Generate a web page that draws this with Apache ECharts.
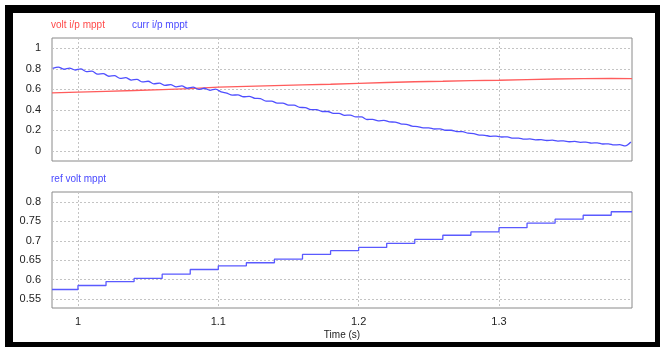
<!DOCTYPE html>
<html>
<head>
<meta charset="utf-8">
<script src="https://cdn.jsdelivr.net/npm/echarts@6/dist/echarts.min.js"></script>
<style>
  html, body { margin: 0; padding: 0; background: #ffffff; }
  #frame {
    position: absolute; left: 5px; top: 5px;
    width: 642px; height: 329px;
    border-style: solid; border-color: #000;
    border-width: 8px 5px 5px 8px;
    background: #ffffff;
  }
  #chart { position: absolute; left: 0; top: 0; width: 660px; height: 347px; }
</style>
</head>
<body>
<div id="frame"></div>
<div id="chart"></div>
<script>
// Time axis ticks and ranges (seconds)
const timeTicks = [1, 1.1, 1.2, 1.3];
const timeMin = 0.9815;
const timeMax = 1.3948;
const upperTicks = [0, 0.2, 0.4, 0.6, 0.8, 1];
const lowerTicks = [0.55, 0.6, 0.65, 0.7, 0.75, 0.8];

// volt i/p mppt
const voltTime = [0.9815, 1.0, 1.02, 1.04, 1.06, 1.08, 1.1, 1.12, 1.14, 1.16, 1.18,
  1.2, 1.22, 1.24, 1.26, 1.28, 1.3, 1.32, 1.34, 1.36, 1.38, 1.3948];
const voltValues = [0.564, 0.572, 0.58, 0.588, 0.597, 0.606, 0.621, 0.628, 0.635, 0.642, 0.649,
  0.658, 0.666, 0.673, 0.678, 0.684, 0.688, 0.694, 0.700, 0.704, 0.707, 0.703];

// curr i/p mppt, sampled every 4 ms from 0.982 s
const currStart = 0.982;
const currStep = 0.004;
const currValues = [
  0.804, 0.816, 0.795, 0.807, 0.788, 0.798, 0.772, 0.776, 0.747, 0.753,
  0.727, 0.732, 0.706, 0.713, 0.690, 0.696, 0.671, 0.678, 0.652, 0.660,
  0.637, 0.646, 0.623, 0.632, 0.610, 0.620, 0.599, 0.610, 0.590, 0.601,
  0.575, 0.562, 0.543, 0.545, 0.527, 0.531, 0.512, 0.508, 0.485, 0.485,
  0.465, 0.465, 0.446, 0.445, 0.423, 0.421, 0.402, 0.402, 0.383, 0.383,
  0.365, 0.365, 0.346, 0.348, 0.330, 0.330, 0.305, 0.307, 0.292, 0.296,
  0.282, 0.279, 0.263, 0.258, 0.240, 0.236, 0.223, 0.223, 0.212, 0.213,
  0.200, 0.200, 0.187, 0.186, 0.171, 0.168, 0.153, 0.151, 0.141, 0.143,
  0.134, 0.135, 0.123, 0.124, 0.113, 0.115, 0.106, 0.109, 0.100, 0.103,
  0.094, 0.097, 0.088, 0.091, 0.082, 0.085, 0.075, 0.077, 0.066, 0.068,
  0.057, 0.059, 0.047, 0.085
];

// ref volt mppt: a new level every 20 ms
const refTime = [0.9815, 1.0, 1.02, 1.04, 1.06, 1.08, 1.1, 1.12, 1.14, 1.16, 1.18,
  1.2, 1.22, 1.24, 1.26, 1.28, 1.3, 1.32, 1.34, 1.36, 1.38, 1.3948];
const refValues = [0.5744, 0.5847, 0.595, 0.603, 0.614, 0.626, 0.6356, 0.6434, 0.653, 0.665, 0.6745,
  0.683, 0.6937, 0.704, 0.7144, 0.723, 0.734, 0.7455, 0.756, 0.766, 0.775, 0.775];

const FONT = 'Liberation Sans, Arial, sans-serif';
const pairs = (xs, ys) => xs.map((x, i) => [x, ys[i]]);
const currData = currValues.map((v, i) => [+(currStart + i * currStep).toFixed(4), v]);

const gridLine = { show: true, lineStyle: { color: '#c4c4c4', type: [2, 2], width: 1 } };

function timeAxis(gridIndex, withLabels) {
  return {
    type: 'value', gridIndex, min: timeMin, max: timeMax,
    axisLine: { show: false },
    axisTick: { show: false, customValues: timeTicks },
    axisLabel: {
      show: withLabels, customValues: timeTicks, color: '#222', fontFamily: FONT,
      fontSize: 11, margin: 8
    },
    splitLine: gridLine,
    name: withLabels ? 'Time (s)' : '',
    nameLocation: 'middle', nameGap: 22,
    nameTextStyle: { color: '#222', fontFamily: FONT, fontSize: 10 }
  };
}

function valueAxis(gridIndex, min, max, ticks) {
  return {
    type: 'value', gridIndex, min, max,
    axisLine: { show: false },
    axisTick: { show: false, customValues: ticks },
    axisLabel: {
      customValues: ticks, color: '#222', fontFamily: FONT, fontSize: 11, margin: 11
    },
    splitLine: gridLine
  };
}

const chart = echarts.init(document.getElementById('chart'), null, { renderer: 'canvas' });
chart.setOption({
  backgroundColor: 'transparent',
  animation: false,
  title: [
    { text: 'volt i/p mppt', left: 51, top: 20, textStyle: { color: '#ff4a4a', fontFamily: FONT, fontSize: 10, fontWeight: 'normal' }, padding: 0 },
    { text: 'curr i/p mppt', left: 132, top: 20, textStyle: { color: '#4a4aff', fontFamily: FONT, fontSize: 10, fontWeight: 'normal' }, padding: 0 },
    { text: 'ref volt mppt', left: 51, top: 174, textStyle: { color: '#4a4aff', fontFamily: FONT, fontSize: 10, fontWeight: 'normal' }, padding: 0 }
  ],
  grid: [
    { left: 52, top: 38, width: 580, height: 123, show: true, backgroundColor: '#fff', borderColor: '#8a8a8a', borderWidth: 1 },
    { left: 52, top: 192, width: 580, height: 116, show: true, backgroundColor: '#fff', borderColor: '#8a8a8a', borderWidth: 1 }
  ],
  xAxis: [timeAxis(0, false), timeAxis(1, true)],
  yAxis: [valueAxis(0, -0.1, 1.1, upperTicks), valueAxis(1, 0.5267, 0.826, lowerTicks)],
  series: [
    {
      name: 'volt i/p mppt', type: 'line', xAxisIndex: 0, yAxisIndex: 0,
      data: pairs(voltTime, voltValues), showSymbol: false,
      lineStyle: { color: '#ff5c5c', width: 1.3 }
    },
    {
      name: 'curr i/p mppt', type: 'line', xAxisIndex: 0, yAxisIndex: 0,
      data: currData, showSymbol: false, smooth: 0.3,
      lineStyle: { color: '#4f4fff', width: 1.3 }
    },
    {
      name: 'ref volt mppt', type: 'line', xAxisIndex: 1, yAxisIndex: 1,
      data: pairs(refTime, refValues), showSymbol: false, step: 'end',
      lineStyle: { color: '#5a5aff', width: 1.3 }
    }
  ]
});
</script>
</body>
</html>
